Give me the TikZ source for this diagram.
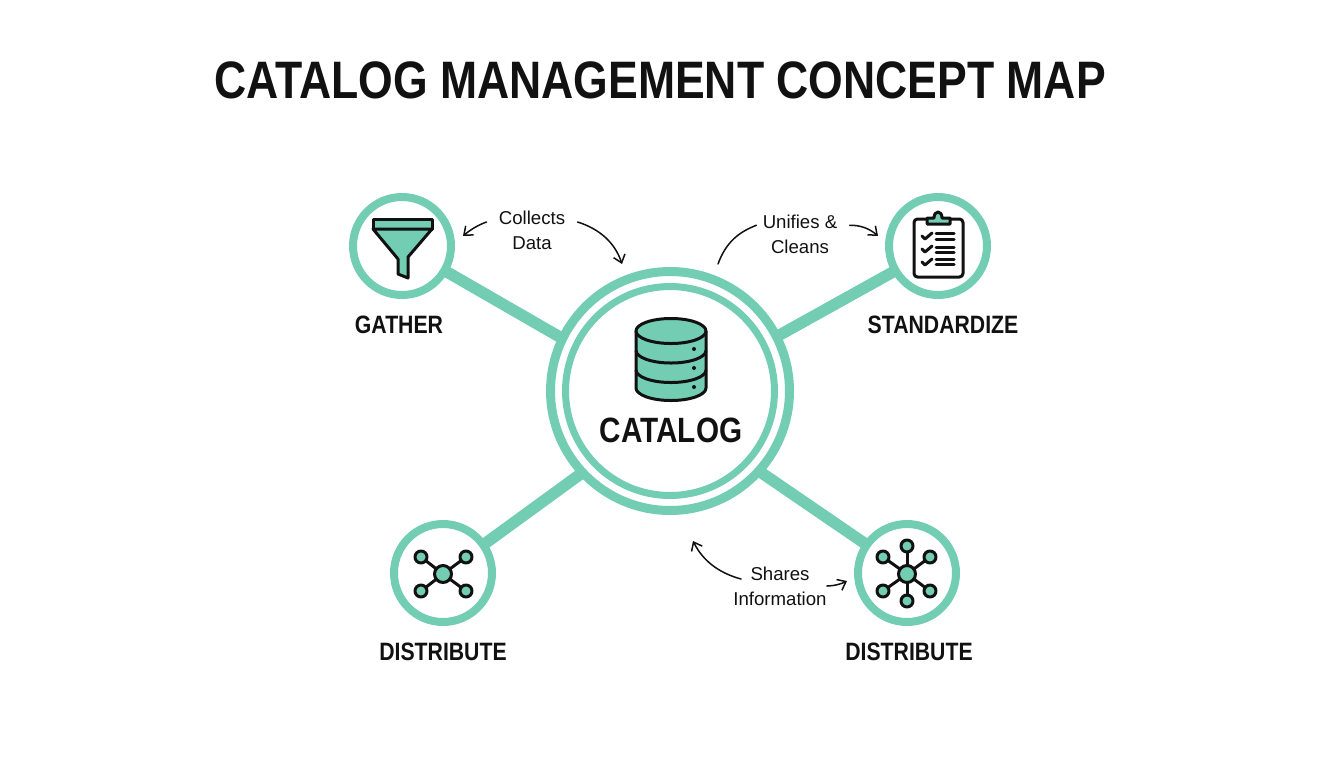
\documentclass[tikz,border=0pt]{standalone}
\usepackage{fontspec}
\usetikzlibrary{arrows.meta}
\setmainfont{Liberation Sans}
\newfontfamily\headfont[FakeStretch=0.845]{Liberation Sans}
\definecolor{mint}{HTML}{72CDB3}
\definecolor{ink}{HTML}{111111}
\begin{document}
\begin{tikzpicture}[x=0.02cm,y=-0.02cm,
  ring/.style={circle,draw=mint,fill=white,line width=0.16cm,minimum size=1.96cm,inner sep=0pt,outer sep=0pt},
  spoke/.style={draw=mint,line width=0.23cm},
  heading/.style={anchor=base,text=ink,inner sep=0pt,font=\headfont\bfseries\fontsize{14.3}{16}\selectfont},
  remark/.style={text=ink,align=center,inner ysep=0pt,inner xsep=0.24cm,font=\fontsize{10.6}{14.2}\selectfont},
  note/.style={draw=ink,line width=0.03cm,line cap=round},
  tip/.style={note,-{Straight Barb[length=0.15cm,width=0.24cm]}},
  icon/.style={draw=ink,fill=mint,line width=0.06cm,line join=round},
  hubdot/.style={circle,icon,minimum size=0.34cm,inner sep=0pt,outer sep=0pt},
  leafdot/.style={circle,icon,minimum size=0.24cm,inner sep=0pt,outer sep=0pt},
  tick/.style={draw=ink,line width=0.06cm,line cap=round,line join=round}]
\useasboundingbox (0,0) rectangle (1344,768);
\node [heading,font=\headfont\bfseries\fontsize{30}{34}\selectfont] (title) at (660,98) {CATALOG MANAGEMENT CONCEPT MAP};

\node [ring] (gather) at (402,246) {};
\node [ring] (standardize) at (938,246) {};
\node [ring] (distleft) at (443,573) {};
\node [ring] (distright) at (907,573) {};
\node [ring,line width=0.18cm,minimum size=4.78cm] (catalog) at (670,391) {};
\node [ring,line width=0.14cm,minimum size=4.18cm] (catalogin) at (670,391) {};
\draw [spoke] (catalog.154) -- (gather.330);
\draw [spoke] (catalog.27) -- (standardize.210);
\draw [spoke] (catalog.223) -- (distleft.35);
\draw [spoke] (catalog.318) -- (distright.145);

\node [heading] (gatherlabel) at (399,333) {GATHER};
\node [heading] (standardizelabel) at (943,333) {STANDARDIZE};
\node [heading] (distleftlabel) at (443,660) {DISTRIBUTE};
\node [heading] (distrightlabel) at (909,660) {DISTRIBUTE};
\node [heading,font=\headfont\bfseries\fontsize{20}{24}\selectfont] (cataloglabel) at (671,442) {CATALOG};

\node [remark] (collects) at (532,230) {Collects\\Data};
\node [remark] (unifies) at (800,234) {Unifies \&\\Cleans};
\node [remark] (shares) at (780,586) {Shares\\Information};

\coordinate (tipgather) at (463,236);
\coordinate (tipcatalog) at (622,264);
\coordinate (endcatalog) at (718,264);
\coordinate (tipstandardize) at (878,236);
\coordinate (tipshares) at (693,541);
\coordinate (tipdist) at (847,581);
\draw [tip] (collects.170) .. controls (478,225) and (470,230) .. (tipgather);
\draw [tip] (collects.10) .. controls (600,229) and (615,243) .. (tipcatalog);
\draw [note] ([xshift=0.12cm]unifies.170) .. controls (739,232) and (726,242) .. (endcatalog);
\draw [tip] (unifies.10) .. controls (861,225) and (870,229) .. (tipstandardize);
\draw [tip] ([xshift=0.4cm,yshift=0.14cm]shares.west) .. controls (719,573) and (703,561) .. (tipshares);
\draw [tip] ([xshift=-0.24cm]shares.east) .. controls (834,586) and (841,584) .. (tipdist);

\draw [icon] (373,219) rectangle (432,229);
\draw [icon] (373,229) -- (398,259) -- (398,274) -- (408,278) -- (408,257) -- (432,229) -- cycle;

\draw [icon,fill=white,rounded corners=2pt] (914,219) rectangle (963,277);
\draw [icon] (927,224) -- (927,218) -- (934,218) .. controls (934,210) and (942,210) .. (942,218) -- (950,218) -- (950,224) -- cycle;
\foreach \rowy/\lineone/\linetwo in {236/233/239,249/247/252,262/259/264} {
  \draw [tick] (922,\rowy) -- (925,\rowy+3) -- (932,\rowy-3);
  \draw [tick] (936,\lineone) -- (954,\lineone);
  \draw [tick] (936,\linetwo) -- (954,\linetwo);
}

\draw [icon] (636,331) -- (636,388) arc [start angle=180,end angle=0,x radius=35,y radius=12.5] -- (706,331);
\draw [icon] (671,331) ellipse [x radius=35,y radius=12.5];
\foreach \bandy in {350.5,370} {
  \draw [icon,fill=none] (636,\bandy) arc [start angle=180,end angle=0,x radius=35,y radius=12.5];
}
\foreach \doty in {349,368,387} {
  \fill [ink] (694,\doty) circle [radius=2];
}

\node [hubdot] (hubleft) at (443,574) {};
\foreach \leafx/\leafy [count=\i] in {421/557,466/557,421/591,466/591} {
  \node [leafdot] (leftleaf\i) at (\leafx,\leafy) {};
  \draw [tick] (hubleft) -- (leftleaf\i);
}
\node [hubdot] (hubright) at (907,574) {};
\foreach \leafx/\leafy [count=\i] in {907/546,930/557,930/591,907/601,883/591,883/557} {
  \node [leafdot] (rightleaf\i) at (\leafx,\leafy) {};
  \draw [tick] (hubright) -- (rightleaf\i);
}
\end{tikzpicture}
\end{document}
